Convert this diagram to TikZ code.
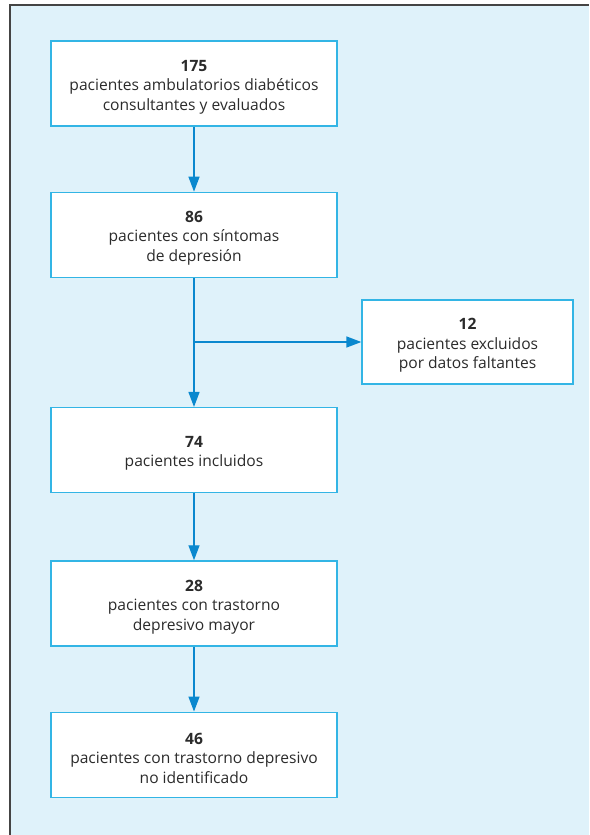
\documentclass[tikz,border=0pt]{standalone}
\usepackage{fontspec}
\setmainfont{Open Sans}
\usetikzlibrary{arrows.meta,positioning}
\definecolor{fondo}{HTML}{DFF2FA}
\definecolor{borde}{HTML}{33B5E5}
\definecolor{azul}{HTML}{0A88CE}
\definecolor{texto}{HTML}{2B2B2B}
\definecolor{marco}{HTML}{444444}
\newcommand{\cifra}[1]{\rule{0pt}{18pt}\textbf{#1}}

\begin{document}
\begin{tikzpicture}[x=1pt, y=-1pt, node distance=65pt,
  caja/.style={draw=borde, fill=white, line width=1.3pt, minimum width=286pt,
    minimum height=85pt, align=center, text=texto, inner sep=0pt,
    font=\fontsize{15.6}{19.5}\selectfont},
  flecha/.style={draw=azul, line width=1.4pt, -{Triangle[width=11pt,length=15pt]}}]
  \useasboundingbox (0,0) rectangle (589,835);
  \fill[fondo] (10,5) rectangle (589,835);
  \draw[marco, line width=1.6pt] (10,835) -- (10,5) -- (589,5);

  \node[caja]                    (n175) at (194,83.5) {\cifra{175}\\pacientes ambulatorios diabéticos\\consultantes y evaluados};
  \node[caja] [below=of n175]     (n86)  {\cifra{86}\\pacientes con síntomas\\de depresión};
  \node[caja] [below=129pt of n86] (n74) {\cifra{74}\\pacientes incluidos};
  \node[caja] [below=67pt of n74] (n28)  {\cifra{28}\\pacientes con trastorno\\depresivo mayor};
  \node[caja] [below=65pt of n28] (n46)  {\cifra{46}\\pacientes con trastorno depresivo\\no identificado};
  \node[caja, minimum width=211pt, minimum height=84pt] (n12) at (467.5,342) {\cifra{12}\\pacientes excluidos\\por datos faltantes};
  \coordinate (rama) at (n86 |- n12);

  \draw[flecha] (n175) -- (n86);
  \draw[flecha] (n86) -- (n74);
  \draw[flecha] (rama) -- (n12);
  \draw[flecha] (n74) -- (n28);
  \draw[flecha] (n28) -- (n46);
\end{tikzpicture}
\end{document}
